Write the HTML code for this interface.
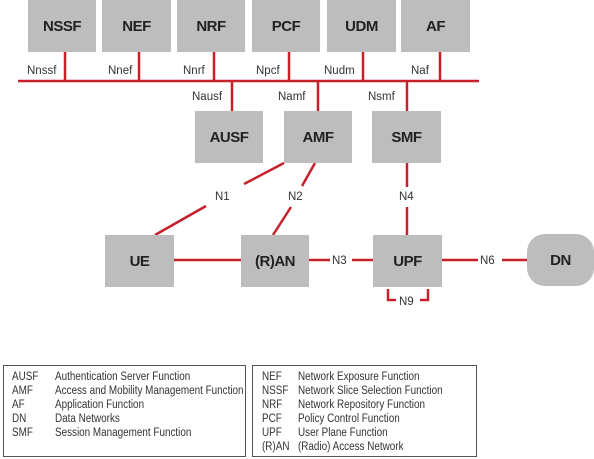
<!DOCTYPE html>
<html><head><meta charset="utf-8"><style>
body{margin:0;width:594px;height:459px;background:#fff;overflow:hidden;position:relative;font-family:"Liberation Sans",sans-serif}
.b{position:absolute;background:#bdbdbd;font-weight:bold;font-size:15px;color:#222;display:flex;align-items:center;justify-content:center;letter-spacing:-0.5px}
.lg{position:absolute;border:1px solid #555;font-size:11.5px;color:#333}
.r{position:absolute;white-space:nowrap;transform:scaleX(.86);transform-origin:0 0}
</style></head><body>
<svg width="594" height="459" style="position:absolute;left:0;top:0" font-family="Liberation Sans" font-size="11.5" fill="#333">
<g stroke="#c8202a" stroke-width="2.5" fill="none">
<line x1="18" y1="81" x2="479" y2="81"/>
<line x1="65" y1="52" x2="65" y2="81"/><line x1="139" y1="52" x2="139" y2="81"/>
<line x1="214" y1="52" x2="214" y2="81"/><line x1="289" y1="52" x2="289" y2="81"/>
<line x1="363" y1="52" x2="363" y2="81"/><line x1="440" y1="52" x2="440" y2="81"/>
<line x1="232" y1="81" x2="232" y2="112"/><line x1="318" y1="81" x2="318" y2="112"/><line x1="407" y1="81" x2="407" y2="112"/>
<line x1="284" y1="163" x2="244" y2="184"/><line x1="206" y1="206" x2="155" y2="235"/>
<line x1="315" y1="163" x2="302" y2="186"/><line x1="291" y1="207" x2="273" y2="235"/>
<line x1="407" y1="163" x2="407" y2="187"/><line x1="407" y1="207" x2="407" y2="235"/>
<line x1="174" y1="260" x2="241" y2="260"/>
<line x1="309" y1="260" x2="330" y2="260"/><line x1="352" y1="260" x2="373" y2="260"/>
<line x1="442" y1="260" x2="478" y2="260"/><line x1="502" y1="260" x2="527" y2="260"/>
<polyline points="388,289 388,300 396,300"/><polyline points="420,300 428,300 428,289"/>
</g>
<text x="27" y="74">Nnssf</text><text x="108" y="74">Nnef</text><text x="183" y="74">Nnrf</text>
<text x="256" y="74">Npcf</text><text x="324" y="74">Nudm</text><text x="411" y="74">Naf</text>
<text x="192" y="100">Nausf</text><text x="278" y="100">Namf</text><text x="368" y="100">Nsmf</text>
<text x="215" y="200">N1</text><text x="288" y="200">N2</text><text x="399" y="200">N4</text>
<text x="332" y="264">N3</text><text x="480" y="264">N6</text><text x="399" y="305">N9</text>
</svg>
<div class="b" style="left:28px;top:0;width:68px;height:52px">NSSF</div>
<div class="b" style="left:102px;top:0;width:69px;height:52px">NEF</div>
<div class="b" style="left:177px;top:0;width:68px;height:52px">NRF</div>
<div class="b" style="left:252px;top:0;width:68px;height:52px">PCF</div>
<div class="b" style="left:327px;top:0;width:69px;height:52px">UDM</div>
<div class="b" style="left:401px;top:0;width:69px;height:52px">AF</div>
<div class="b" style="left:195px;top:111px;width:68px;height:52px">AUSF</div>
<div class="b" style="left:284px;top:111px;width:68px;height:52px">AMF</div>
<div class="b" style="left:372px;top:111px;width:69px;height:52px">SMF</div>
<div class="b" style="left:105px;top:235px;width:69px;height:52px">UE</div>
<div class="b" style="left:241px;top:235px;width:68px;height:52px">(R)AN</div>
<div class="b" style="left:373px;top:235px;width:69px;height:52px">UPF</div>
<div class="b" style="left:527px;top:234px;width:67px;height:52px;border-radius:18px">DN</div>
<div class="lg" style="left:3px;top:365px;width:241px;height:90px">
<div class="r" style="left:8px;top:4px;line-height:14px">AUSF<br>AMF<br>AF<br>DN<br>SMF</div>
<div class="r" style="left:51px;top:4px;line-height:14px">Authentication Server Function<br>Access and Mobility Management Function<br>Application Function<br>Data Networks<br>Session Management Function</div>
</div>
<div class="lg" style="left:252px;top:365px;width:223px;height:90px">
<div class="r" style="left:9px;top:4px;line-height:14px">NEF<br>NSSF<br>NRF<br>PCF<br>UPF<br>(R)AN</div>
<div class="r" style="left:45px;top:4px;line-height:14px">Network Exposure Function<br>Network Slice Selection Function<br>Network Repository Function<br>Policy Control Function<br>User Plane Function<br>(Radio) Access Network</div>
</div>
</body></html>
